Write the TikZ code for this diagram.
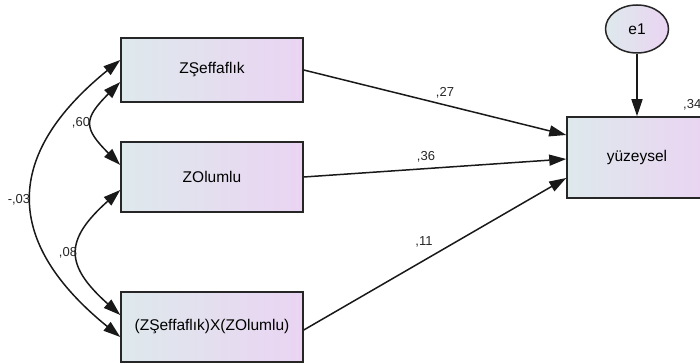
\documentclass[tikz,border=0pt]{standalone}
\usepackage{fontspec}
\setmainfont{Liberation Sans}
\usetikzlibrary{shapes.geometric,arrows.meta}
\definecolor{boxleft}{RGB}{222,233,236}
\definecolor{boxright}{RGB}{234,212,242}
\tikzset{
  var/.style={draw=black!85, line width=1.5pt, rectangle, inner sep=0pt,
    left color=boxleft, right color=boxright, font=\fontsize{15.5}{18}\selectfont},
  errvar/.style={draw=black!85, line width=1.5pt, ellipse, inner sep=0pt,
    left color=boxleft, right color=boxright, font=\fontsize{15.5}{18}\selectfont,
    minimum width=63pt, minimum height=48pt},
  path/.style={line width=1.5pt, draw=black!90, -{Triangle[length=17pt,width=11pt]}},
  cov/.style={line width=1.5pt, draw=black!90, {Triangle[length=17pt,width=11pt]}-{Triangle[length=17pt,width=11pt]}},
  lbl/.style={font=\fontsize{13}{15}\selectfont, text=black!85, inner sep=0pt}
}
\begin{document}
\begin{tikzpicture}[x=1pt,y=-1pt]
\useasboundingbox (0,0) rectangle (700,363);
\clip (0,0) rectangle (700,363);
\node[var, minimum width=182pt, minimum height=64pt] (b1) at (212,70) {ZŞeffaflık};
\node[var, minimum width=182pt, minimum height=70pt] (b2) at (212,177) {ZOlumlu};
\node[var, minimum width=182pt, minimum height=70pt] (b3) at (212,327) {(ZŞeffaflık)X(ZOlumlu)};
\node[var, minimum width=140pt, minimum height=81pt] (y) at (637,157.5) {yüzeysel};
\node[errvar] (e1) at (637,29) {e1};

\draw[path] (e1.south) -- (y.north);
\draw[path] (b1.east) -- ([yshift=22.5pt]y.west);
\draw[path] (b2.east) -- ([yshift=-1.5pt]y.west);
\draw[path] ([yshift=-3pt]b3.east) -- ([yshift=-20.5pt]y.west);

\draw[cov] ([yshift=-12pt]b1.west) .. controls +(-37,37) and +(-37,-37) .. ([yshift=12pt]b2.west);
\draw[cov] ([yshift=-13pt]b2.west) .. controls +(-56,50) and +(-56,-50) .. ([yshift=12pt]b3.west);
\draw[cov] ([yshift=10pt]b1.west) .. controls +(-117,95) and +(-117,-95) .. ([yshift=-10pt]b3.west);

\node[lbl] (l27) at (445,93) {,27};
\node[lbl] (l36) at (426,157) {,36};
\node[lbl] (l11) at (424,242) {,11};
\node[lbl] (l60) at (81,123) {,60};
\node[lbl] (l08) at (68,253) {,08};
\node[lbl] (l03) at (19,200) {-,03};
\node[lbl, anchor=west] (l34) at (683,105) {,34};
\end{tikzpicture}
\end{document}
